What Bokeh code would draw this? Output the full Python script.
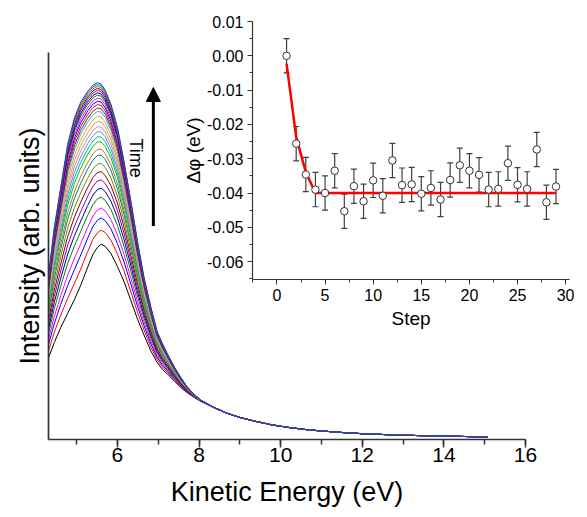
import math
from bokeh.plotting import figure
from bokeh.models import (ColumnDataSource, Whisker, TeeHead, Arrow, NormalHead, Label, Title,
                          SingleIntervalTicker, NumeralTickFormatter, FixedTicker)
from bokeh.embed import file_html
from bokeh.resources import INLINE

FONT = "Liberation Sans"

# ---------------- main panel data ----------------
energy = [4.31, 4.45, 4.61, 4.78, 4.95, 5.1, 5.27, 5.4, 5.51, 5.6, 5.7, 5.84, 6.0, 6.16,
          6.33, 6.49, 6.65, 6.82, 6.97, 7.1, 7.23, 7.4, 7.55, 7.7, 7.88, 8.05, 8.37, 8.7,
          9.0, 9.4, 9.8, 10.2, 10.6, 11.0, 11.5, 12.0, 12.5, 13.0, 13.5, 14.0, 14.5, 15.08]
# first spectrum (lowest, black)
first_spectrum = [81, 96, 111, 125, 139, 153, 171, 184, 191, 194, 192, 185, 172, 157,
                  138, 120, 104, 88, 77, 70, 65, 58, 52, 47, 42, 38, 31.5, 26,
                  22, 18, 14.5, 12, 10, 8.5, 7, 5.8, 5, 4.3, 3.8, 3.3, 3.0, 2.6]
# last spectrum (highest)
last_spectrum = [163, 211, 252, 295, 322, 337, 348, 354, 356.5, 355, 349, 335, 312, 278,
                 238, 198, 162, 132, 108, 96, 85, 72, 62, 53, 45, 39, 32, 26,
                 22, 18, 14.5, 12, 10, 8.5, 7, 5.8, 5, 4.3, 3.8, 3.3, 3.0, 2.6]
# peak height of each successive spectrum
peak_heights = [195, 209.3, 221.6, 231.6, 242.6, 251.6, 260, 268.3, 276.6, 285, 291, 298.3,
                303.3, 308.3, 313.3, 318.3, 323.3, 328.3, 331.6, 335, 338.3, 341.3, 344.3,
                346.6, 349, 351, 353, 354.8, 356.5]
curve_colors = ["#000000", "#FF0000", "#0000FF", "#FF00FF", "#008000", "#000080", "#8000C0",
                "#800000", "#808000", "#008080", "#C07030", "#00C000", "#00B0C0", "#8080C0",
                "#A0A0A0", "#FF8080", "#C0C000", "#40A0FF", "#404040", "#FF0000", "#0000FF",
                "#FF00FF", "#008000", "#000080", "#8000FF", "#800000", "#808000", "#008080",
                "#3333CC"]

# arrow / label positions (data coords)
arrow_x = 6.88
arrow_y0, arrow_y1 = 213.3, 351.6
time_x, time_y = 6.45, 281

# ---------------- inset data ----------------
steps = list(range(1, 30))
dphi = [0.000, -0.0256, -0.0346, -0.0390, -0.0400, -0.0335, -0.0453, -0.0380, -0.0424,
        -0.0363, -0.0408, -0.0305, -0.0377, -0.0375, -0.0402, -0.0385, -0.0419, -0.0362,
        -0.0319, -0.0335, -0.0347, -0.0390, -0.0388, -0.0313, -0.0376, -0.0388, -0.0273,
        -0.0427, -0.0381]
dphi_err = [0.005, 0.005, 0.005, 0.005, 0.005, 0.005, 0.005, 0.005, 0.005, 0.005, 0.005,
            0.005, 0.005, 0.005, 0.005, 0.005, 0.005, 0.005, 0.005, 0.005, 0.005, 0.005,
            0.005, 0.005, 0.005, 0.005, 0.005, 0.005, 0.005]
fit_x = [1, 2, 3, 4, 29]
fit_y = [-0.0023, -0.0237, -0.0339, -0.0400, -0.0400]

# ================= main figure =================
p = figure(frame_width=477, frame_height=387, x_range=(4.31, 16), y_range=(0, 386.6),
           output_backend="svg", toolbar_location=None,
           min_border_left=48, min_border_right=55, min_border_top=52, min_border_bottom=75)
p.grid.visible = False
p.outline_line_color = None
p.background_fill_color = "white"

lo_pk = first_spectrum[energy.index(5.6)]
hi_pk = last_spectrum[energy.index(5.51)]
for i, pk in enumerate(peak_heights):
    w = (pk - lo_pk) / (hi_pk - lo_pk)
    w = min(max(w, 0.0), 1.0)
    ys = [a + w * (b - a) for a, b in zip(first_spectrum, last_spectrum)]
    p.line(energy, ys, line_color=curve_colors[i % len(curve_colors)], line_width=1)

p.xaxis.ticker = SingleIntervalTicker(interval=2, num_minor_ticks=2)
p.xaxis.axis_label = "Kinetic Energy (eV)"
p.yaxis.ticker = FixedTicker(ticks=[])
for ax in (p.xaxis[0], p.yaxis[0]):
    ax.axis_line_color = "#333333"
    ax.axis_line_width = 1.7
    ax.major_tick_line_color = "#333333"
    ax.minor_tick_line_color = "#333333"
    ax.major_tick_line_width = 1.5
    ax.minor_tick_line_width = 1.5
    ax.major_tick_in = 0
    ax.minor_tick_in = 0
    ax.major_label_text_font = FONT
    ax.axis_label_text_font = FONT
    ax.axis_label_text_font_style = "normal"
    ax.axis_label_text_color = "black"
    ax.major_label_text_color = "black"
p.xaxis.major_tick_out = 8
p.xaxis.minor_tick_out = 5
p.xaxis.major_label_text_font_size = "21px"
p.xaxis.major_label_standoff = 0
p.xaxis.axis_label_text_font_size = "27px"
p.xaxis.axis_label_standoff = 12
p.yaxis.major_tick_out = 0
p.yaxis.minor_tick_out = 0
p.yaxis.major_label_standoff = 0
p.yaxis.major_label_text_font_size = "0px"

# y title (placed lower than the frame centre, as in the original)
p.add_layout(Title(text="Intensity (arb. units)", align="center", offset=-30,
                   text_font=FONT, text_font_size="27px", text_font_style="normal",
                   text_color="black", standoff=8), "left")

p.add_layout(Arrow(x_start=arrow_x, y_start=arrow_y0, x_end=arrow_x, y_end=arrow_y1,
                   line_width=3, line_color="black",
                   end=NormalHead(size=14, fill_color="black", line_color="black")))
p.add_layout(Label(x=time_x, y=time_y, text="Time", angle=-math.pi / 2,
                   text_align="center", text_baseline="middle",
                   text_font=FONT, text_font_size="18px", text_color="black"))

# ================= inset figure =================
ins = figure(frame_width=317, frame_height=258, x_range=(-2.54, 30.4), y_range=(-0.0652, 0.01),
             output_backend="svg", toolbar_location=None,
             min_border_left=76, min_border_right=5, min_border_top=13, min_border_bottom=40)
ins.grid.visible = False
ins.outline_line_color = None
ins.background_fill_alpha = 0
ins.border_fill_alpha = 0

src = ColumnDataSource(dict(x=steps, y=dphi,
                            upper=[v + e for v, e in zip(dphi, dphi_err)],
                            lower=[v - e for v, e in zip(dphi, dphi_err)]))
ins.line(fit_x, fit_y, line_color="#FF0000", line_width=2.5)
ins.add_layout(Whisker(base="x", upper="upper", lower="lower", source=src,
                       line_color="#404040", line_width=1.2,
                       upper_head=TeeHead(size=6, line_color="#404040", line_width=1.2),
                       lower_head=TeeHead(size=6, line_color="#404040", line_width=1.2)))
ins.scatter("x", "y", source=src, size=7.5, fill_color="white", line_color="#333333",
            line_width=1)

ins.xaxis.ticker = SingleIntervalTicker(interval=5, num_minor_ticks=2)
ins.yaxis.ticker = SingleIntervalTicker(interval=0.01, num_minor_ticks=2)
ins.yaxis.formatter = NumeralTickFormatter(format="0.00")
ins.xaxis.axis_label = "Step"
ins.yaxis.axis_label = "Δφ (eV)"
for ax in (ins.xaxis[0], ins.yaxis[0]):
    ax.axis_line_color = "#333333"
    ax.axis_line_width = 1.2
    ax.major_tick_line_color = "#333333"
    ax.minor_tick_line_color = "#333333"
    ax.major_tick_in = 0
    ax.minor_tick_in = 0
    ax.major_tick_out = 5
    ax.minor_tick_out = 3
    ax.major_label_text_font = FONT
    ax.major_label_text_font_size = "16px"
    ax.major_label_text_color = "black"
    ax.axis_label_text_font = FONT
    ax.axis_label_text_font_style = "normal"
    ax.axis_label_text_font_size = "19px"
    ax.axis_label_text_color = "black"
ins.xaxis.major_label_standoff = 4
ins.xaxis.axis_label_standoff = 4
ins.yaxis.major_label_standoff = 4
ins.yaxis.axis_label_standoff = 0

ins.styles = {"position": "absolute", "left": "176px", "top": "8px"}

open("out.html", "w").write(file_html([p, ins], INLINE))
